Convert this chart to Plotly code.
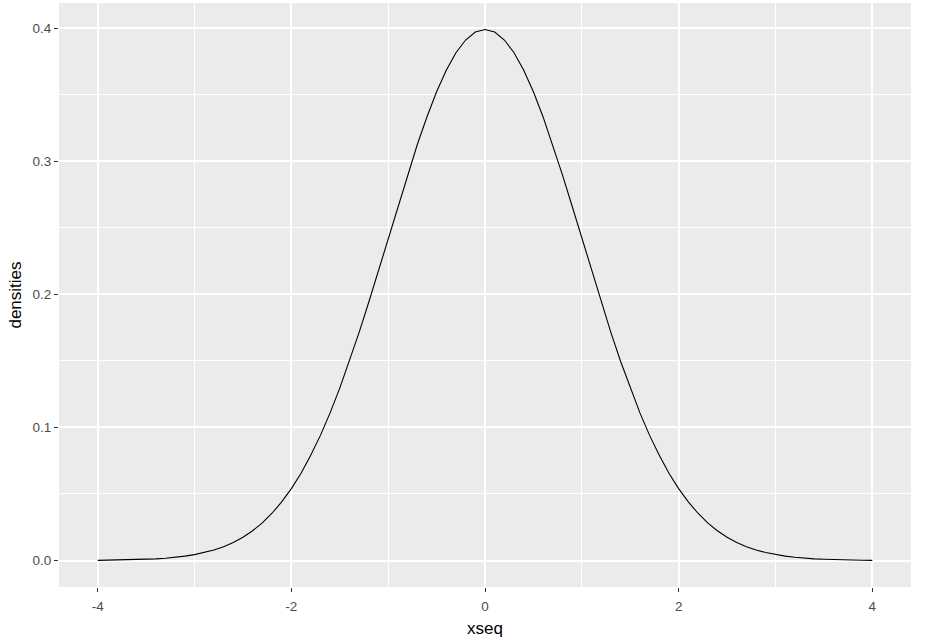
import plotly.graph_objects as go

xseq = [-4.0, -3.9, -3.8, -3.7, -3.6, -3.5, -3.4, -3.3, -3.2, -3.1, -3.0, -2.9, -2.8, -2.7,
        -2.6, -2.5, -2.4, -2.3, -2.2, -2.1, -2.0, -1.9, -1.8, -1.7, -1.6, -1.5, -1.4, -1.3,
        -1.2, -1.1, -1.0, -0.9, -0.8, -0.7, -0.6, -0.5, -0.4, -0.3, -0.2, -0.1, 0.0,
        0.1, 0.2, 0.3, 0.4, 0.5, 0.6, 0.7, 0.8, 0.9, 1.0, 1.1, 1.2, 1.3, 1.4, 1.5, 1.6,
        1.7, 1.8, 1.9, 2.0, 2.1, 2.2, 2.3, 2.4, 2.5, 2.6, 2.7, 2.8, 2.9, 3.0, 3.1, 3.2,
        3.3, 3.4, 3.5, 3.6, 3.7, 3.8, 3.9, 4.0]
densities = [0.0001, 0.0002, 0.0003, 0.0004, 0.0006, 0.0009, 0.0012, 0.0017, 0.0024, 0.0033,
             0.0044, 0.0060, 0.0079, 0.0104, 0.0136, 0.0175, 0.0224, 0.0283, 0.0355, 0.0440,
             0.0540, 0.0656, 0.0790, 0.0940, 0.1109, 0.1295, 0.1497, 0.1714, 0.1942, 0.2179,
             0.2420, 0.2661, 0.2897, 0.3123, 0.3332, 0.3521, 0.3683, 0.3814, 0.3910, 0.3970,
             0.3989,
             0.3970, 0.3910, 0.3814, 0.3683, 0.3521, 0.3332, 0.3123, 0.2897, 0.2661, 0.2420,
             0.2179, 0.1942, 0.1714, 0.1497, 0.1295, 0.1109, 0.0940, 0.0790, 0.0656, 0.0540,
             0.0440, 0.0355, 0.0283, 0.0224, 0.0175, 0.0136, 0.0104, 0.0079, 0.0060, 0.0044,
             0.0033, 0.0024, 0.0017, 0.0012, 0.0009, 0.0006, 0.0004, 0.0003, 0.0002, 0.0001]
x_ticks = [-4, -2, 0, 2, 4]
x_tick_labels = ["-4", "-2", "0", "2", "4"]
y_ticks = [0.0, 0.1, 0.2, 0.3, 0.4]
y_tick_labels = ["0.0", "0.1", "0.2", "0.3", "0.4"]

fig = go.Figure()
fig.add_trace(go.Scatter(x=xseq, y=densities, mode="lines",
                         line=dict(color="black", width=1.1),
                         showlegend=False, hoverinfo="skip"))

axis_common = dict(
    showgrid=True, gridcolor="white", gridwidth=1.5,
    zeroline=False, showline=False,
    ticks="outside", ticklen=4, tickwidth=1, tickcolor="#333333",
    tickfont=dict(family="Liberation Sans, Arial, sans-serif", size=13.5, color="#4D4D4D"),
    title_font=dict(family="Liberation Sans, Arial, sans-serif", size=17, color="black"),
    automargin=False,
)

fig.update_xaxes(**axis_common, range=[-4.4, 4.4], tickmode="array",
                 tickvals=x_ticks, ticktext=x_tick_labels, ticklabelstandoff=3,
                 minor=dict(dtick=1, tick0=-3, showgrid=True, gridcolor="white", gridwidth=0.7, ticks=""),
                 title_text="xseq", title_standoff=8)
fig.update_yaxes(**axis_common, range=[-0.0199, 0.4188], tickmode="array",
                 tickvals=y_ticks, ticktext=y_tick_labels,
                 minor=dict(dtick=0.05, tick0=0.05, showgrid=True, gridcolor="white", gridwidth=0.7, ticks=""),
                 title_text="densities", title_standoff=6)

fig.update_layout(
    width=948, height=644,
    margin=dict(l=59, r=37, t=3, b=57),
    plot_bgcolor="#EBEBEB", paper_bgcolor="white",
)

fig.write_html("out.html", config={"displayModeBar": False},
               post_script="document.body.style.margin='0px';document.body.style.overflow='hidden';")
